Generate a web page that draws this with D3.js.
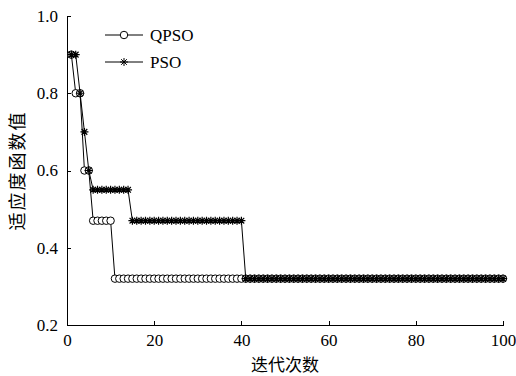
<!DOCTYPE html>
<html>
<head>
  <meta charset="utf-8">
  <script src="https://d3js.org/d3.v7.min.js"></script>
  <style>
    body { margin: 0; background: #fff; }
    .axis path, .axis line { fill: none; stroke: #000; stroke-width: 1px; shape-rendering: crispEdges; }
  </style>
</head>
<body>
<div id="chart"></div>
<script>
  // iterations 1..100
  var iters = d3.range(1, 101);

  // QPSO fitness per iteration
  var qpso = [0.9, 0.8, 0.8, 0.6, 0.6, 0.47, 0.47, 0.47, 0.47, 0.47]
    .concat(d3.range(11, 101).map(function() { return 0.32; }));

  // PSO fitness per iteration
  var pso = [0.9, 0.9, 0.8, 0.7, 0.6]
    .concat(d3.range(6, 15).map(function() { return 0.55; }))
    .concat(d3.range(15, 41).map(function() { return 0.47; }))
    .concat(d3.range(41, 101).map(function() { return 0.32; }));

  var xTicks = [0, 20, 40, 60, 80, 100];
  var yTicks = [0.2, 0.4, 0.6, 0.8, 1.0];

  var serif = "Liberation Serif, DejaVu Serif";
  var cjk = "Noto Sans CJK SC";

  var width = 516, height = 376;
  var margin = { top: 16, right: 13, bottom: 51, left: 67 };

  var svg = d3.select("#chart").append("svg")
    .attr("width", width)
    .attr("height", height);

  var x = d3.scaleLinear().domain([0, 100]).range([margin.left, width - margin.right]);
  var y = d3.scaleLinear().domain([0.2, 1.0]).range([height - margin.bottom, margin.top]);

  // x axis, ticks pointing inward
  svg.append("g")
    .attr("class", "x axis")
    .attr("transform", "translate(0," + y(0.2) + ")")
    .call(d3.axisBottom(x).tickValues(xTicks).tickSizeInner(-4).tickSizeOuter(0).tickPadding(9).tickFormat(d3.format("d")));

  svg.append("g")
    .attr("class", "y axis")
    .attr("transform", "translate(" + x(0) + ",0)")
    .call(d3.axisLeft(y).tickValues(yTicks).tickSizeInner(-4).tickSizeOuter(0).tickPadding(9).tickFormat(d3.format(".1f")));

  svg.selectAll(".axis")
    .attr("font-family", serif)
    .attr("font-size", 17);
  svg.selectAll(".axis text").attr("fill", "#000");

  svg.append("text")
    .attr("x", (x(0) + x(100)) / 2)
    .attr("y", 371)
    .attr("text-anchor", "middle")
    .attr("font-family", cjk)
    .attr("font-size", 17)
    .text("迭代次数");

  svg.append("text")
    .attr("transform", "translate(24," + (y(0.2) + y(1.0)) / 2 + ") rotate(-90)")
    .attr("text-anchor", "middle")
    .attr("font-family", cjk)
    .attr("font-size", 18)
    .attr("letter-spacing", 2)
    .text("适应度函数值");

  // custom 8-arm star marker
  var starType = {
    draw: function(ctx, size) {
      var r = Math.sqrt(size) / 2;
      var d = r * Math.SQRT1_2;
      ctx.moveTo(-r, 0); ctx.lineTo(r, 0);
      ctx.moveTo(0, -r); ctx.lineTo(0, r);
      ctx.moveTo(-d, -d); ctx.lineTo(d, d);
      ctx.moveTo(-d, d); ctx.lineTo(d, -d);
    }
  };
  var starPath = d3.symbol().type(starType).size(64)();
  var circlePath = d3.symbol().type(d3.symbolCircle).size(44)();

  var line = d3.line()
    .x(function(d, i) { return x(iters[i]); })
    .y(function(d) { return y(d); });

  // QPSO
  svg.append("path")
    .datum(qpso)
    .attr("fill", "none")
    .attr("stroke", "#000")
    .attr("stroke-width", 1)
    .attr("d", line);

  svg.append("g").selectAll("path")
    .data(qpso)
    .enter().append("path")
    .attr("d", circlePath)
    .attr("transform", function(d, i) { return "translate(" + x(iters[i]) + "," + y(d) + ")"; })
    .attr("fill", "#fff")
    .attr("stroke", "#000")
    .attr("stroke-width", 1);

  // PSO
  svg.append("path")
    .datum(pso)
    .attr("fill", "none")
    .attr("stroke", "#000")
    .attr("stroke-width", 1)
    .attr("d", line);

  svg.append("g").selectAll("path")
    .data(pso)
    .enter().append("path")
    .attr("d", starPath)
    .attr("transform", function(d, i) { return "translate(" + x(iters[i]) + "," + y(d) + ")"; })
    .attr("fill", "none")
    .attr("stroke", "#000")
    .attr("stroke-width", 1.2);

  // legend
  var legend = svg.append("g");
  var items = [
    { name: "QPSO", y: 35, mark: circlePath, fill: "#fff" },
    { name: "PSO", y: 62, mark: starPath, fill: "none" }
  ];
  items.forEach(function(it) {
    legend.append("line")
      .attr("x1", 105).attr("x2", 143)
      .attr("y1", it.y).attr("y2", it.y)
      .attr("stroke", "#000");
    legend.append("path")
      .attr("d", it.mark)
      .attr("transform", "translate(124," + it.y + ")")
      .attr("fill", it.fill)
      .attr("stroke", "#000");
    legend.append("text")
      .attr("x", 150)
      .attr("y", it.y + 6)
      .attr("font-family", serif)
      .attr("font-size", 17)
      .text(it.name);
  });
</script>
</body>
</html>
